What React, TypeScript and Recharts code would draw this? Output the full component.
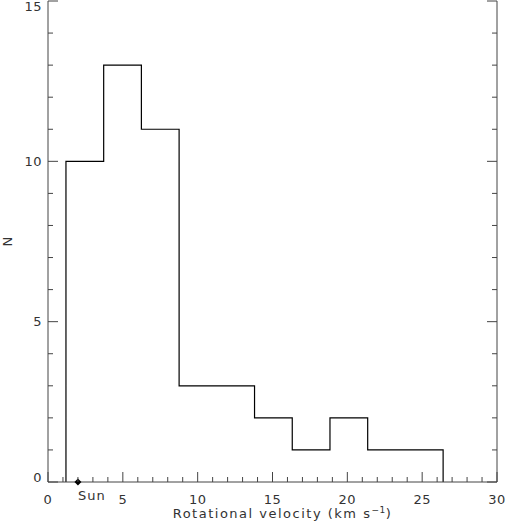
import React from 'react';
import { ComposedChart, Line, XAxis, YAxis, Scatter } from 'recharts';

// Histogram bin edges (km/s) and counts per bin
const binEdges = [1.2, 3.72, 6.24, 8.76, 11.28, 13.8, 16.32, 18.84, 21.36, 23.88, 26.4];
const binCounts = [10, 13, 11, 3, 3, 2, 1, 2, 1, 1];
const sunVelocity = 2.0;
const sunLabel = 'Sun';
const xTicks = Array.from({ length: 31 }, (_, i) => i);
const yTicks = Array.from({ length: 16 }, (_, i) => i);
const xMajorEvery = 5;
const yMajorEvery = 5;

const histData = [
  { v: binEdges[0], n: 0 },
  ...binEdges.map((e, i) => ({ v: e, n: i < binCounts.length ? binCounts[i] : 0 })),
];
const sunData = [{ v: sunVelocity, n: 0 }];

const FONT = '"DejaVu Sans", sans-serif';
const TXT = '#333';
const AX = '#444';

const BottomTick = (p: any) => {
  const { x, y, payload } = p;
  const v = payload.value;
  const major = v % xMajorEvery === 0;
  return (
    <g>
      <line x1={x} x2={x} y1={y} y2={y - (major ? 10 : 5)} stroke={AX} />
      {major && (
        <text x={x} y={y + 22} textAnchor="middle" fontFamily={FONT} fontSize={13} fill={TXT} letterSpacing={0.5}>
          {v}
        </text>
      )}
    </g>
  );
};

const TopTick = (p: any) => {
  const { x, y, payload } = p;
  const v = payload.value;
  const major = v % xMajorEvery === 0;
  return <line x1={x} x2={x} y1={y} y2={y + (major ? 10 : 5)} stroke={AX} />;
};

const LeftTick = (p: any) => {
  const { x, y, payload } = p;
  const v = payload.value;
  const major = v % yMajorEvery === 0;
  const ty = Math.min(Math.max(y, 6), 477);
  return (
    <g>
      <line x1={x} x2={x + (major ? 10 : 5)} y1={y} y2={y} stroke={AX} />
      {major && (
        <text x={x - 6} y={ty} dy="0.36em" textAnchor="end" fontFamily={FONT} fontSize={13} fill={TXT} letterSpacing={0.5}>
          {v}
        </text>
      )}
    </g>
  );
};

const RightTick = (p: any) => {
  const { x, y, payload } = p;
  const v = payload.value;
  const major = v % yMajorEvery === 0;
  return <line x1={x} x2={x - (major ? 10 : 5)} y1={y} y2={y} stroke={AX} />;
};

const XTitle = (p: any) => {
  const vb = p.viewBox || {};
  const cx = vb.x + vb.width / 2 + 10;
  return (
    <text x={cx} y={518} textAnchor="middle" fontFamily={FONT} fontSize={13} fill={TXT} letterSpacing={1.5}>
      Rotational velocity (km s
      <tspan dy={-5} fontSize={9} letterSpacing={0.5}>−1</tspan>
      <tspan dy={5}>)</tspan>
    </text>
  );
};

const YTitle = (p: any) => {
  const vb = p.viewBox || {};
  const cy = vb.y + vb.height / 2;
  return (
    <text x={12} y={cy} transform={`rotate(-90 12 ${cy})`} textAnchor="middle" fontFamily={FONT} fontSize={13} fill={TXT}>
      N
    </text>
  );
};

const SunShape = (p: any) => {
  const { cx, cy } = p;
  const r = 3.5;
  return (
    <g>
      <polygon points={`${cx},${cy - r} ${cx + r},${cy} ${cx},${cy + r} ${cx - r},${cy}`} fill="#000" />
      <text x={cx} y={cy + 18} textAnchor="start" fontFamily={FONT} fontSize={13} fill={TXT} letterSpacing={1}>
        {sunLabel}
      </text>
    </g>
  );
};

export default function App() {
  return (
    <div style={{ position: 'absolute', left: 0, top: 0, width: 507, height: 527, background: '#fff' }}>
      <ComposedChart width={507} height={527} margin={{ top: 1, right: 0, bottom: 0, left: 0 }}>
        <XAxis
          xAxisId="bottom"
          dataKey="v"
          type="number"
          domain={[0, 30]}
          ticks={xTicks}
          interval={0}
          tickSize={0}
          tickMargin={0}
          tick={<BottomTick />}
          tickLine={false}
          axisLine={{ stroke: AX }}
          height={45}
          orientation="bottom"
          label={<XTitle />}
        />
        <XAxis
          xAxisId="top"
          dataKey="v"
          type="number"
          domain={[0, 30]}
          ticks={xTicks}
          interval={0}
          tickSize={0}
          tickMargin={0}
          tick={<TopTick />}
          tickLine={false}
          axisLine={{ stroke: AX }}
          height={0}
          orientation="top"
        />
        <YAxis
          yAxisId="left"
          dataKey="n"
          type="number"
          domain={[0, 15]}
          ticks={yTicks}
          interval={0}
          tickSize={0}
          tickMargin={0}
          tick={<LeftTick />}
          tickLine={false}
          axisLine={{ stroke: AX }}
          width={48}
          orientation="left"
          label={<YTitle />}
        />
        <YAxis
          yAxisId="right"
          dataKey="n"
          type="number"
          domain={[0, 15]}
          ticks={yTicks}
          interval={0}
          tickSize={0}
          tickMargin={0}
          tick={<RightTick />}
          tickLine={false}
          axisLine={{ stroke: AX }}
          width={10}
          orientation="right"
        />
        <Line
          xAxisId="bottom"
          yAxisId="left"
          data={histData}
          dataKey="n"
          type="stepAfter"
          stroke="#000"
          strokeWidth={1.2}
          dot={false}
          isAnimationActive={false}
        />
        <Line
          xAxisId="top"
          yAxisId="right"
          data={histData}
          dataKey="n"
          type="stepAfter"
          stroke="none"
          dot={false}
          legendType="none"
          isAnimationActive={false}
        />
        <Scatter
          xAxisId="bottom"
          yAxisId="left"
          data={sunData}
          dataKey="n"
          shape={<SunShape />}
          isAnimationActive={false}
        />
      </ComposedChart>
    </div>
  );
}
